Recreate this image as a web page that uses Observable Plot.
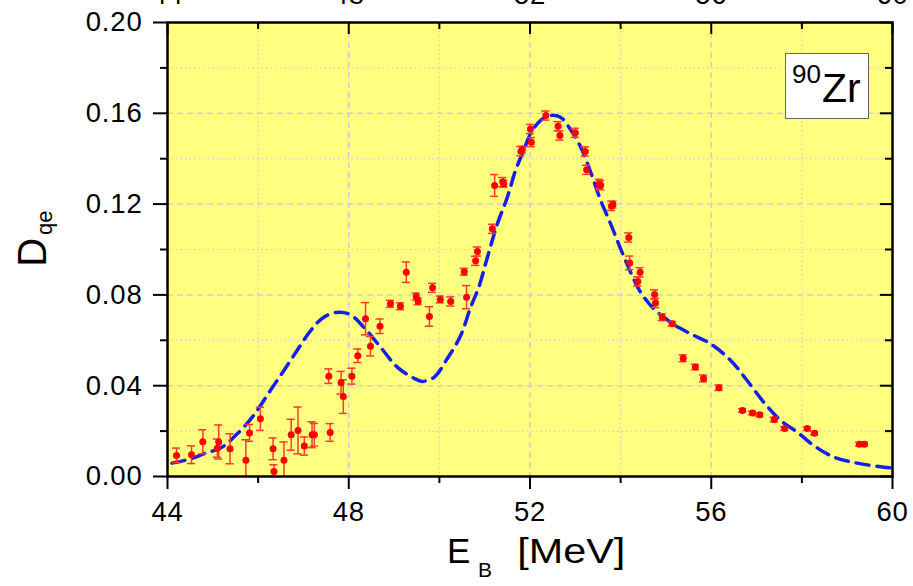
<!DOCTYPE html>
<html>
<head>
<meta charset="utf-8">
<script src="https://cdn.jsdelivr.net/npm/d3@7"></script>
<script src="https://cdn.jsdelivr.net/npm/@observablehq/plot@0.6"></script>
<style>
  body { margin: 0; background: #fff; font-family: Arial, "Liberation Sans", sans-serif; }
  #wrap { position: relative; width: 913px; height: 586px; }
  #legend { position: absolute; left: 785px; top: 53px; width: 84px; height: 66px; box-sizing: border-box;
            border: 1.5px solid #666; background: #fff; }
  #legend .sup { position: absolute; left: 6px; top: 7px; font-size: 26px; line-height: 1; color: #000; }
  #legend .el  { position: absolute; left: 36px; top: 14px; font-size: 41px; line-height: 1; color: #000; }
</style>
</head>
<body>
<div id="wrap"><div id="legend"><span class="sup">90</span><span class="el">Zr</span></div></div>
<script>
// Experimental points: binding energy E_B [MeV], D_qe, error
const energies = [44.20,44.53,44.78,45.13,45.10,45.38,45.73,45.81,46.05,46.33,46.35,46.57,46.73,46.88,47.02,47.19,47.24,47.59,
  47.56,47.83,47.88,48.07,48.20,48.37,48.48,48.69,48.92,49.14,49.27,49.49,49.53,49.78,49.85,50.02,50.25,50.60,50.55,50.80,50.84,
  51.17,51.22,51.40,51.42,51.80,51.83,52.01,52.03,52.35,52.62,52.66,53.00,53.22,53.25,53.53,53.56,53.80,53.83,54.18,54.20,54.38,
  54.43,54.75,54.77,54.92,55.14,55.38,55.65,55.83,56.17,56.69,56.91,57.07,57.39,57.62,58.12,58.28,59.27,59.38];
const dqe = [0.0093,0.0096,0.0153,0.0152,0.0125,0.0122,0.0072,0.0192,0.0254,0.0122,0.0022,0.0072,0.0184,0.0203,0.0134,0.0184,0.0184,0.0194,
  0.0442,0.0413,0.0352,0.0442,0.0532,0.0695,0.0574,0.0662,0.0761,0.0750,0.0900,0.0793,0.0772,0.0705,0.0831,0.0780,0.0771,0.0790,0.0902,0.0950,0.0991,
  0.1091,0.1282,0.1297,0.1290,0.1433,0.1440,0.1531,0.1473,0.1590,0.1543,0.1502,0.1514,0.1432,0.1351,0.1289,0.1283,0.1192,0.1198,0.1053,0.0941,0.0859,
  0.0900,0.0802,0.0764,0.0702,0.0673,0.0521,0.0482,0.0432,0.0391,0.0291,0.0280,0.0272,0.0251,0.0211,0.0211,0.0191,0.0142,0.0142];
const errors = [0.0032,0.0039,0.0053,0.0075,0.0040,0.0066,0.0090,0.0037,0.0051,0.0048,0.0030,0.0080,0.0068,0.0103,0.0040,0.0057,0.0050,0.0039,
  0.0032,0.0050,0.0074,0.0035,0.0030,0.0071,0.0043,0.0032,0.0015,0.0015,0.0045,0.0015,0.0015,0.0043,0.0020,0.0015,0.0020,0.0051,0.0015,0.0020,0.0020,
  0.0020,0.0048,0.0020,0.0015,0.0020,0.0015,0.0020,0.0020,0.0020,0.0020,0.0020,0.0020,0.0020,0.0020,0.0020,0.0020,0.0020,0.0015,0.0020,0.0030,0.0020,
  0.0020,0.0020,0.0020,0.0015,0.0010,0.0015,0.0012,0.0015,0.0012,0.0008,0.0008,0.0008,0.0010,0.0008,0.0008,0.0008,0.0008,0.0008];

// Calculated curve (dashed)
const curveE = [44.10,44.51,44.80,45.20,45.54,45.90,46.27,46.57,46.86,47.16,47.45,47.78,48.04,48.33,48.70,49.07,49.44,49.62,49.88,50.17,
  50.47,50.69,50.87,51.06,51.28,51.50,51.68,51.86,52.01,52.23,52.45,52.67,52.86,53.12,53.34,53.56,53.78,54.00,54.22,54.44,54.73,55.03,
  55.14,55.54,55.98,56.43,56.79,57.16,57.53,57.90,58.26,58.71,59.22,59.81,60.00];
const curveD = [0.0059,0.0078,0.0100,0.0129,0.0188,0.0269,0.0379,0.0467,0.0555,0.0643,0.0702,0.0724,0.0712,0.0658,0.0570,0.0482,0.0433,0.0419,0.0437,0.0518,
  0.0621,0.0746,0.0834,0.0966,0.1113,0.1230,0.1348,0.1436,0.1510,0.1568,0.1590,0.1583,0.1539,0.1451,0.1340,0.1216,0.1113,0.1003,0.0900,0.0812,0.0739,0.0690,
  0.0673,0.0629,0.0585,0.0511,0.0423,0.0327,0.0247,0.0195,0.0137,0.0085,0.0059,0.0041,0.0037];

// Ticks
const xMajor = [44, 48, 52, 56, 60];
const xMinor = [46, 50, 54, 58];
const yMajor = [0, 0.04, 0.08, 0.12, 0.16, 0.20];
const yMinor = [0.02, 0.06, 0.10, 0.14, 0.18];
const xGridMajor = [48, 52, 56];
const yGridMajor = [0.04, 0.08, 0.12, 0.16];

const points = energies.map((x, i) => ({x, y: dqe[i], e: errors[i]}));
const curve = curveE.map((x, i) => ({x, y: curveD[i]}));

const capHalf = 0.09;
const errColor = "#ff3a2a";
const gridColor = "#cfcfcf";
const tickFont = 27.5;

const plot = Plot.plot({
  width: 913,
  height: 586,
  marginTop: 22,
  marginRight: 21,
  marginBottom: 110,
  marginLeft: 167,
  style: {fontFamily: "Arial, 'Liberation Sans', sans-serif", color: "black", background: "white"},
  x: {domain: [44, 60]},
  y: {domain: [0, 0.2]},
  marks: [
    Plot.frame({fill: "#ffff80", stroke: null}),
    Plot.ruleX(xGridMajor, {stroke: gridColor, strokeWidth: 1.5, strokeDasharray: "6,4"}),
    Plot.ruleX(xMinor, {stroke: gridColor, strokeWidth: 1.2, strokeDasharray: "1.5,3"}),
    Plot.ruleY(yGridMajor, {stroke: gridColor, strokeWidth: 1.5, strokeDasharray: "6,4"}),
    Plot.ruleY(yMinor, {stroke: gridColor, strokeWidth: 1.2, strokeDasharray: "1.5,3"}),
    Plot.line(curve, {x: "x", y: "y", stroke: "#1520e6", strokeWidth: 3.5, strokeDasharray: "13,8", curve: "catmull-rom"}),
    Plot.ruleX(points, {x: "x", y1: d => d.y - d.e, y2: d => d.y + d.e, stroke: errColor, strokeWidth: 1.5, clip: true}),
    Plot.ruleY(points, {y: d => d.y + d.e, x1: d => d.x - capHalf, x2: d => d.x + capHalf, stroke: errColor, strokeWidth: 1.5, clip: true}),
    Plot.ruleY(points, {y: d => d.y - d.e, x1: d => d.x - capHalf, x2: d => d.x + capHalf, stroke: errColor, strokeWidth: 1.5, clip: true}),
    Plot.dot(points, {x: "x", y: "y", r: 3.5, fill: "#ff0000", stroke: null}),
    // bottom axis
    Plot.axisX({ticks: xMajor, anchor: "bottom", tickSize: 13, tickPadding: 12, fontSize: tickFont, strokeWidth: 2, label: null, tickFormat: d => String(d)}),
    Plot.axisX({ticks: xMinor, anchor: "bottom", tickSize: 7, strokeWidth: 2, label: null, tickFormat: () => ""}),
    // top (clipped) labels and inward ticks
    Plot.axisX({ticks: xMajor, anchor: "top", tickSize: 0, tickPadding: 19, fontSize: tickFont, label: null, tickFormat: d => String(d)}),
    Plot.tickX(xMajor, {x: d => d, insetBottom: 454 - 12, stroke: "black", strokeWidth: 2}),
    Plot.tickX(xMinor, {x: d => d, insetBottom: 454 - 7, stroke: "black", strokeWidth: 2}),
    // left axis
    Plot.axisY({ticks: yMajor, anchor: "left", tickSize: 14, tickPadding: 11, fontSize: tickFont, strokeWidth: 2, label: null, tickFormat: d3.format(".2f")}),
    Plot.axisY({ticks: yMinor, anchor: "left", tickSize: 7, strokeWidth: 2, label: null, tickFormat: () => ""}),
    // right inward ticks
    Plot.tickY(yMajor, {y: d => d, insetLeft: 725 - 12, stroke: "black", strokeWidth: 2}),
    Plot.tickY(yMinor, {y: d => d, insetLeft: 725 - 7, stroke: "black", strokeWidth: 2}),
    Plot.frame({stroke: "black", strokeWidth: 2.5}),
    // axis titles
    Plot.text(["E"], {frameAnchor: "bottom", textAnchor: "start", lineAnchor: "bottom", fontSize: 35, dx: -83, dy: 86.3, fill: "black"}),
    Plot.text(["B"], {frameAnchor: "bottom", textAnchor: "start", lineAnchor: "bottom", fontSize: 21, dx: -52, dy: 100.7, fill: "black"}),
    Plot.text(["[MeV]"], {frameAnchor: "bottom", textAnchor: "start", lineAnchor: "bottom", fontSize: 35, dx: -12.7, dy: 86.3, fill: "black", className: "unitlabel"}),
    Plot.text(["D"], {frameAnchor: "left", textAnchor: "start", lineAnchor: "bottom", rotate: -90, fontSize: 40, dx: -122, dy: 17.2, fill: "black"}),
    Plot.text(["qe"], {frameAnchor: "left", textAnchor: "start", lineAnchor: "bottom", rotate: -90, fontSize: 22, dx: -116, dy: -14.5, fill: "black"})
  ]
});
// the reference's unit label is drawn with slightly wider glyphs
d3.select(plot).selectAll("g.unitlabel text").attr("textLength", 108).attr("lengthAdjust", "spacingAndGlyphs");
d3.select(plot).selectAll("[aria-label^='y-axis tick label'] text, [aria-label^='x-axis tick label'] text").style("letter-spacing", "0.8px");
document.getElementById("wrap").prepend(plot);
</script>
</body>
</html>
